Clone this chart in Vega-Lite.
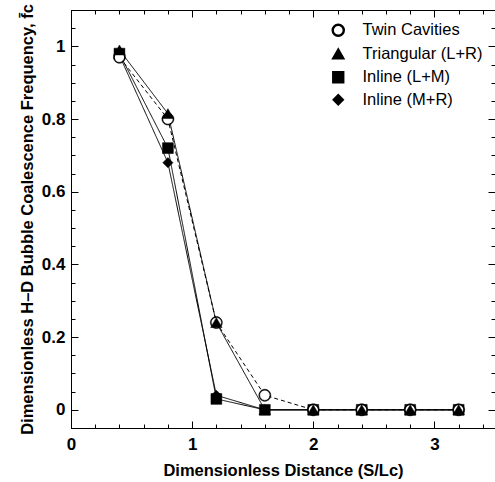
{
  "$schema": "https://vega.github.io/schema/vega-lite/v6.json",
  "width": 424,
  "height": 418,
  "autosize": {"type": "none"},
  "padding": {"left": 71, "top": 10, "right": 0, "bottom": 54},
  "background": "white",
  "config": {
    "view": {"stroke": "black", "strokeWidth": 1},
    "font": "Liberation Sans",
    "axis": {
      "domainColor": "black", "domainWidth": 1, "tickColor": "black", "tickWidth": 1, "grid": false,
      "labelFont": "Liberation Sans", "labelFontWeight": "bold", "labelFontSize": 17, "labelColor": "black",
      "titleFont": "Liberation Sans", "titleFontWeight": "bold", "titleFontSize": 16.5, "titleColor": "black",
      "labelFlush": false, "labelOverlap": false
    },
    "legend": {
      "labelFont": "Liberation Sans", "labelFontSize": 16.5, "labelColor": "black",
      "rowPadding": 5.5, "labelOffset": 16, "padding": 0,
      "orient": "top-right", "offset": 12
    }
  },
  "data": {
    "values": [
      {"series": "Inline (L+M)", "x": 0.4, "y": 0.98},
      {"series": "Inline (L+M)", "x": 0.8, "y": 0.72},
      {"series": "Inline (L+M)", "x": 1.2, "y": 0.03},
      {"series": "Inline (L+M)", "x": 1.6, "y": 0},
      {"series": "Inline (L+M)", "x": 2.0, "y": 0},
      {"series": "Inline (L+M)", "x": 2.4, "y": 0},
      {"series": "Inline (L+M)", "x": 2.8, "y": 0},
      {"series": "Inline (L+M)", "x": 3.2, "y": 0},
      {"series": "Inline (M+R)", "x": 0.4, "y": 0.975},
      {"series": "Inline (M+R)", "x": 0.8, "y": 0.68},
      {"series": "Inline (M+R)", "x": 1.2, "y": 0.04},
      {"series": "Inline (M+R)", "x": 1.6, "y": 0},
      {"series": "Inline (M+R)", "x": 2.0, "y": 0},
      {"series": "Inline (M+R)", "x": 2.4, "y": 0},
      {"series": "Inline (M+R)", "x": 2.8, "y": 0},
      {"series": "Inline (M+R)", "x": 3.2, "y": 0},
      {"series": "Twin Cavities", "x": 0.4, "y": 0.97},
      {"series": "Twin Cavities", "x": 0.8, "y": 0.80},
      {"series": "Twin Cavities", "x": 1.2, "y": 0.24},
      {"series": "Twin Cavities", "x": 1.6, "y": 0.04},
      {"series": "Twin Cavities", "x": 2.0, "y": 0},
      {"series": "Twin Cavities", "x": 2.4, "y": 0},
      {"series": "Twin Cavities", "x": 2.8, "y": 0},
      {"series": "Twin Cavities", "x": 3.2, "y": 0},
      {"series": "Triangular (L+R)", "x": 0.4, "y": 0.99},
      {"series": "Triangular (L+R)", "x": 0.8, "y": 0.815},
      {"series": "Triangular (L+R)", "x": 1.2, "y": 0.24},
      {"series": "Triangular (L+R)", "x": 1.6, "y": 0},
      {"series": "Triangular (L+R)", "x": 2.0, "y": 0},
      {"series": "Triangular (L+R)", "x": 2.4, "y": 0},
      {"series": "Triangular (L+R)", "x": 2.8, "y": 0},
      {"series": "Triangular (L+R)", "x": 3.2, "y": 0}
    ]
  },
  "resolve": {"axis": {"x": "independent", "y": "independent"}},
  "layer": [
    {
      "mark": {"type": "line", "color": "black", "strokeWidth": 1},
      "encoding": {
        "x": {
          "field": "x", "type": "quantitative",
          "scale": {"domain": [0, 3.5], "nice": false, "zero": false},
          "axis": {
            "orient": "bottom",
            "title": "Dimensionless Distance  (S/Lc)",
            "values": [0, 0.2, 0.4, 0.6, 0.8, 1, 1.2, 1.4, 1.6, 1.8, 2, 2.2, 2.4, 2.6, 2.8, 3, 3.2, 3.4],
            "labelExpr": "abs(datum.value-round(datum.value))<0.001 ? format(datum.value,'d') : ''",
            "tickSize": {"condition": {"test": "abs(datum.value-round(datum.value))<0.001", "value": -7}, "value": -4},
            "labelPadding": 15,
            "titlePadding": 7
          }
        },
        "y": {
          "field": "y", "type": "quantitative",
          "scale": {"domain": [-0.05, 1.1], "nice": false, "zero": false},
          "axis": {
            "orient": "left",
            "title": "Dimensionless H–D Bubble Coalescence Frequency, f̄c",
            "values": [-0.05, 0, 0.05, 0.1, 0.15, 0.2, 0.25, 0.3, 0.35, 0.4, 0.45, 0.5, 0.55, 0.6, 0.65, 0.7, 0.75, 0.8, 0.85, 0.9, 0.95, 1, 1.05, 1.1],
            "labelExpr": "abs(datum.value*5-round(datum.value*5))<0.001 ? format(datum.value,'~g') : ''",
            "tickSize": {"condition": {"test": "abs(datum.value*5-round(datum.value*5))<0.001", "value": -7}, "value": -4},
            "labelPadding": 13,
            "titlePadding": 6
          }
        },
        "detail": {"field": "series", "type": "nominal"},
        "strokeDash": {
          "field": "series", "type": "nominal",
          "scale": {"domain": ["Triangular (L+R)", "Inline (L+M)", "Inline (M+R)", "Twin Cavities"], "range": [[1, 0], [1, 0], [1, 0], [4, 3]]},
          "legend": null
        }
      }
    },
    {
      "transform": [{"filter": "indexof(datum.series, 'Inline') === 0"}],
      "mark": {"type": "point", "filled": true, "stroke": "black", "strokeWidth": 0.5, "opacity": 1},
      "encoding": {
        "x": {
          "field": "x", "type": "quantitative",
          "scale": {"domain": [0, 3.5], "nice": false, "zero": false},
          "axis": {
            "orient": "top", "title": null, "labels": false,
            "values": [0, 0.2, 0.4, 0.6, 0.8, 1, 1.2, 1.4, 1.6, 1.8, 2, 2.2, 2.4, 2.6, 2.8, 3, 3.2, 3.4],
            "tickSize": {"condition": {"test": "abs(datum.value-round(datum.value))<0.001", "value": -7}, "value": -4}
          }
        },
        "y": {
          "field": "y", "type": "quantitative",
          "scale": {"domain": [-0.05, 1.1], "nice": false, "zero": false},
          "axis": {
            "orient": "right", "title": null, "labels": false,
            "values": [-0.05, 0, 0.05, 0.1, 0.15, 0.2, 0.25, 0.3, 0.35, 0.4, 0.45, 0.5, 0.55, 0.6, 0.65, 0.7, 0.75, 0.8, 0.85, 0.9, 0.95, 1, 1.05, 1.1],
            "tickSize": {"condition": {"test": "abs(datum.value*5-round(datum.value*5))<0.001", "value": -7}, "value": -4}
          }
        },
        "shape": {
          "field": "series", "type": "nominal",
          "scale": {"domain": ["Twin Cavities", "Triangular (L+R)", "Inline (L+M)", "Inline (M+R)"], "range": ["M-1,0A1,1,0,1,1,1,0A1,1,0,1,1,-1,0ZM-0.85,0A0.85,0.85,0,1,0,0.85,0A0.85,0.85,0,1,0,-0.85,0Z", "triangle-up", "square", "diamond"]},
          "legend": {"title": null}
        },
        "fill": {
          "field": "series", "type": "nominal",
          "scale": {"domain": ["Twin Cavities", "Triangular (L+R)", "Inline (L+M)", "Inline (M+R)"], "range": ["black", "black", "black", "black"]},
          "legend": {"title": null}
        },
        "size": {
          "field": "series", "type": "nominal",
          "scale": {"domain": ["Twin Cavities", "Triangular (L+R)", "Inline (L+M)", "Inline (M+R)"], "range": [144, 105, 76, 115]},
          "legend": {"title": null}
        }
      }
    },
    {
      "transform": [{"filter": "datum.series === 'Twin Cavities'"}],
      "mark": {"type": "point", "filled": true, "shape": "circle", "fill": "white", "strokeWidth": 0, "size": 90, "opacity": 1},
      "encoding": {
        "x": {"field": "x", "type": "quantitative", "scale": {"domain": [0, 3.5], "nice": false, "zero": false}, "axis": null},
        "y": {"field": "y", "type": "quantitative", "scale": {"domain": [-0.05, 1.1], "nice": false, "zero": false}, "axis": null}
      }
    },
    {
      "transform": [{"filter": "indexof(datum.series, 'Inline') !== 0"}],
      "mark": {"type": "point", "filled": true, "stroke": "black", "strokeWidth": 0.5, "opacity": 1},
      "encoding": {
        "x": {"field": "x", "type": "quantitative", "scale": {"domain": [0, 3.5], "nice": false, "zero": false}, "axis": null},
        "y": {"field": "y", "type": "quantitative", "scale": {"domain": [-0.05, 1.1], "nice": false, "zero": false}, "axis": null},
        "shape": {
          "field": "series", "type": "nominal",
          "scale": {"domain": ["Twin Cavities", "Triangular (L+R)", "Inline (L+M)", "Inline (M+R)"], "range": ["M-1,0A1,1,0,1,1,1,0A1,1,0,1,1,-1,0ZM-0.85,0A0.85,0.85,0,1,0,0.85,0A0.85,0.85,0,1,0,-0.85,0Z", "triangle-up", "square", "diamond"]},
          "legend": {"title": null}
        },
        "fill": {
          "field": "series", "type": "nominal",
          "scale": {"domain": ["Twin Cavities", "Triangular (L+R)", "Inline (L+M)", "Inline (M+R)"], "range": ["black", "black", "black", "black"]},
          "legend": {"title": null}
        },
        "size": {
          "field": "series", "type": "nominal",
          "scale": {"domain": ["Twin Cavities", "Triangular (L+R)", "Inline (L+M)", "Inline (M+R)"], "range": [144, 105, 76, 115]},
          "legend": {"title": null}
        }
      }
    }
  ]
}
